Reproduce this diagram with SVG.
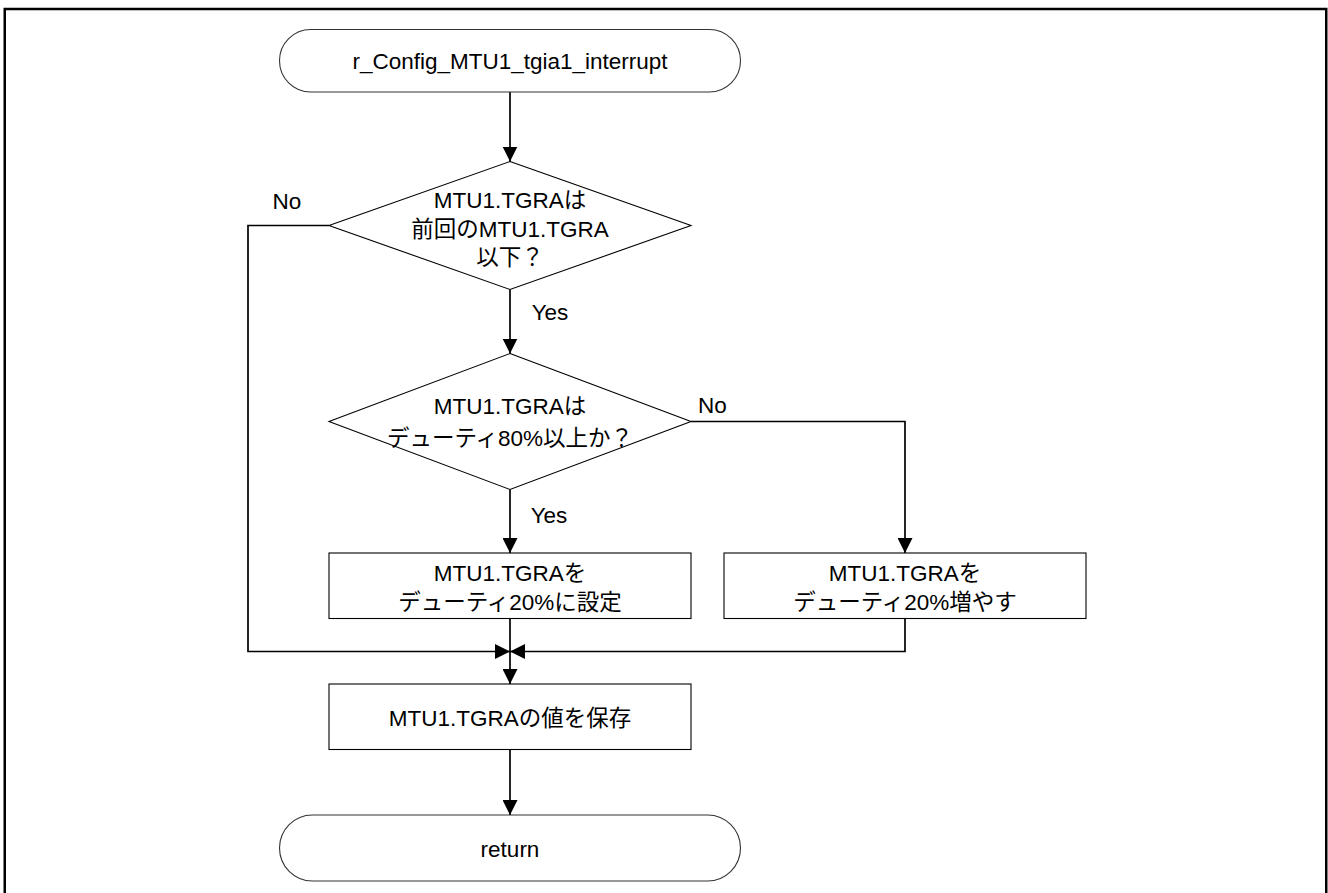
<svg xmlns="http://www.w3.org/2000/svg" width="1328" height="893" viewBox="0 0 1328 893">
<defs>
<style>
.shape{fill:#fff;stroke:#000;stroke-width:1.1}
.term{fill:#fff;stroke:#333;stroke-width:1.1}
.conn{fill:none;stroke:#000;stroke-width:1.7}
text{font-family:"Liberation Sans","Noto Sans CJK JP",Arial,sans-serif;font-size:22.5px;fill:#000;text-anchor:middle}
</style>
<marker id="arr" markerUnits="userSpaceOnUse" markerWidth="15" markerHeight="15" refX="14" refY="7" orient="auto" viewBox="0 0 14 14">
<path d="M0,0 L14,7 L0,14 Z" fill="#000"/>
</marker>
</defs>
<rect x="0" y="0" width="1328" height="893" fill="#fff"/>
<rect x="4.75" y="9" width="1321.5" height="886" fill="none" stroke="#000" stroke-width="2.5"/>

<g id="connectors">
<path class="conn" d="M510,92 V161.5" marker-end="url(#arr)"/>
<path class="conn" d="M510,289.5 V353.5" marker-end="url(#arr)"/>
<path class="conn" d="M329,225.5 H248 V651.5 H510" marker-end="url(#arr)"/>
<path class="conn" d="M510,489.5 V553" marker-end="url(#arr)"/>
<path class="conn" d="M691,421.5 H905 V553" marker-end="url(#arr)"/>
<path class="conn" d="M510,618.5 V684" marker-end="url(#arr)"/>
<path class="conn" d="M905,618.5 V651.5 H510" marker-end="url(#arr)"/>
<path class="conn" d="M510,749.5 V815" marker-end="url(#arr)"/>
<text x="287" y="209">No</text>
<text x="550" y="320">Yes</text>
<text x="712.5" y="413">No</text>
<text x="549" y="523">Yes</text>
</g>

<g id="start">
<rect class="term" x="279.5" y="29.5" width="461" height="62.5" rx="31.25" ry="31.25"/>
<text x="510" y="69">r_Config_MTU1_tgia1_interrupt</text>
</g>

<g id="decision1">
<polygon class="shape" points="510,161.5 691,225.5 510,289.5 329,225.5"/>
<text x="510" y="207.5">MTU1.TGRAは</text>
<text x="510" y="237">前回のMTU1.TGRA</text>
<text x="510" y="265">以下？</text>
</g>

<g id="decision2">
<polygon class="shape" points="510,353.5 691,421.5 510,489.5 329,421.5"/>
<text x="510" y="414">MTU1.TGRAは</text>
<text x="510" y="446">デューティ80%以上か？</text>
</g>

<g id="set20">
<rect class="shape" x="329" y="553" width="362" height="65.5"/>
<text x="510" y="581">MTU1.TGRAを</text>
<text x="510" y="609.5">デューティ20%に設定</text>
</g>

<g id="inc20">
<rect class="shape" x="724" y="553" width="362" height="65.5"/>
<text x="905" y="581">MTU1.TGRAを</text>
<text x="905" y="609.5">デューティ20%増やす</text>
</g>

<g id="save">
<rect class="shape" x="329" y="684" width="362" height="65.5"/>
<text x="510" y="726">MTU1.TGRAの値を保存</text>
</g>

<g id="return">
<rect class="term" x="279.5" y="815" width="461" height="66" rx="33" ry="33"/>
<text x="510" y="857">return</text>
</g>
</svg>
